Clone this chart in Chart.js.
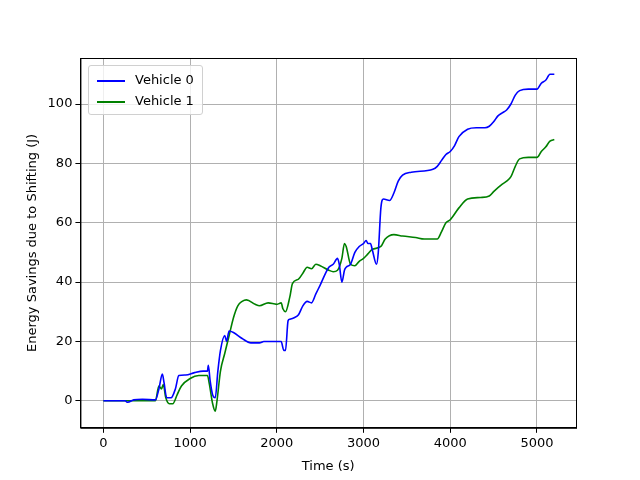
<!DOCTYPE html>
<html>
<head>
<meta charset="utf-8">
<script src="https://cdn.jsdelivr.net/npm/chart.js@4"></script>
<style>
  body { margin: 0; background: #fff; }
  #wrap { position: relative; width: 640px; height: 480px; }
  #legend {
    position: absolute; left: 88px; top: 65px;
    border: 1px solid #d0d0d0; border-radius: 3px; background: rgba(255,255,255,0.8);
    font: 13px "DejaVu Sans", sans-serif; padding: 3px 8px 3px 8px; line-height: 21px;
  }
  #legend span.ln { display: inline-block; width: 28px; height: 2px; vertical-align: middle; margin-right: 10px; }
</style>
</head>
<body>
<div id="wrap">
  <canvas id="chart" width="640" height="480"></canvas>
  <div id="legend">
    <div><span class="ln" style="background:#0000ff"></span>Vehicle 0</div>
    <div><span class="ln" style="background:#008000"></span>Vehicle 1</div>
  </div>
</div>
<script>
const time0 = [0, 250, 280, 350, 450, 600, 640, 680, 700, 730, 780, 830, 870, 950, 1050, 1150, 1200, 1210, 1230, 1260, 1290, 1320, 1350, 1400, 1420, 1450, 1500, 1600, 1700, 1800, 1850, 1950, 2050, 2080, 2100, 2130, 2150, 2200, 2250, 2300, 2350, 2400, 2450, 2500, 2600, 2650, 2700, 2720, 2750, 2780, 2800, 2850, 2900, 2950, 3000, 3030, 3050, 3080, 3100, 3150, 3170, 3200, 3230, 3300, 3350, 3400, 3450, 3550, 3800, 3850, 3900, 3950, 4000, 4050, 4100, 4200, 4300, 4400, 4450, 4500, 4550, 4600, 4650, 4700, 4750, 4800, 4900, 5000, 5050, 5100, 5150, 5200];
const savings0 = [0, 0, -0.5, 0.3, 0.5, 0.3, 4, 9, 6, 1, 1, 4, 8.5, 8.7, 9.5, 10, 10, 12, 7, 2, 1, 10, 17, 22, 20, 23.5, 23, 21, 19.5, 19.5, 20, 20, 20, 17, 17, 27, 27.5, 28, 29, 32, 33.5, 33, 36, 39, 45, 46, 48, 46, 40, 44, 45, 46, 50, 52, 53, 54, 53, 53, 51, 46, 50, 65, 68, 67.5, 70, 74, 76, 77, 78, 79, 81, 83, 84, 86, 89, 91.5, 92, 92, 92.5, 94, 96, 97, 98, 100, 103, 104.5, 105, 105, 107, 108, 110, 110];
const time1 = [0, 300, 600, 640, 670, 690, 720, 760, 800, 850, 900, 1000, 1100, 1200, 1220, 1260, 1290, 1310, 1350, 1400, 1450, 1500, 1550, 1600, 1650, 1750, 1800, 1900, 2000, 2050, 2070, 2100, 2150, 2180, 2250, 2300, 2350, 2400, 2450, 2500, 2600, 2650, 2700, 2750, 2780, 2800, 2850, 2900, 2950, 3000, 3050, 3100, 3200, 3250, 3350, 3450, 3600, 3700, 3850, 3900, 3950, 4000, 4100, 4200, 4350, 4450, 4500, 4600, 4650, 4700, 4750, 4800, 4900, 5000, 5050, 5100, 5150, 5200];
const savings1 = [0, 0, 0, 5, 4, 5.5, 1, -1, -1, 2, 5, 7.5, 8.5, 8.5, 6, -1, -3.5, 0, 10, 16, 22, 28, 32, 33.5, 34, 32.5, 32, 33, 32.5, 33, 31, 30, 35, 39.5, 41, 43, 45, 44.5, 46, 45.5, 44, 43.5, 44, 48, 53, 52, 46, 45.5, 47, 48, 49.5, 51, 52, 54.5, 56, 55.5, 55, 54.5, 54.5, 57, 60, 61, 65, 68, 68.5, 69, 70.5, 73, 74, 75.5, 79, 81.5, 82, 82, 84, 85.5, 87.5, 88];
const xTicks = [0, 1000, 2000, 3000, 4000, 5000];
const yTicks = [0, 20, 40, 60, 80, 100];

const pts = (xs, ys) => xs.map((x, i) => ({ x: x, y: ys[i] }));
const font = { family: 'DejaVu Sans', size: 13 };

// matplotlib-style frame round the plot area
const frame = {
  id: 'frame',
  afterDraw(chart) {
    const a = chart.chartArea, ctx = chart.ctx;
    ctx.save();
    ctx.strokeStyle = '#000';
    ctx.lineWidth = 1;
    ctx.strokeRect(a.left + 0.5, a.top + 0.5, a.right - a.left, a.bottom - a.top);
    ctx.restore();
  }
};

new Chart(document.getElementById('chart'), {
  type: 'line',
  data: {
    datasets: [
      { label: 'Vehicle 0', data: pts(time0, savings0), borderColor: '#0000ff', borderWidth: 1.6, pointRadius: 0, cubicInterpolationMode: 'monotone' },
      { label: 'Vehicle 1', data: pts(time1, savings1), borderColor: '#008000', borderWidth: 1.6, pointRadius: 0, cubicInterpolationMode: 'monotone' }
    ]
  },
  options: {
    responsive: false,
    animation: false,
    layout: { padding: { top: 58, right: 64, left: 21, bottom: 2 } },
    plugins: { legend: { display: false }, tooltip: { enabled: false } },
    scales: {
      x: {
        type: 'linear', min: -265, max: 5450,
        afterBuildTicks: a => { a.ticks = xTicks.map(v => ({ value: v })); },
        ticks: { color: '#000', font: font, maxRotation: 0, callback: v => String(v) },
        grid: { color: '#b0b0b0', tickColor: '#000', tickLength: 5 },
        border: { color: '#000' },
        title: { display: true, text: 'Time (s)', color: '#000', font: font }
      },
      y: {
        min: -9.1, max: 115.5,
        afterBuildTicks: a => { a.ticks = yTicks.map(v => ({ value: v })); },
        ticks: { color: '#000', font: font, callback: v => String(v) },
        grid: { color: '#b0b0b0', tickColor: '#000', tickLength: 5 },
        border: { color: '#000' },
        title: { display: true, text: 'Energy Savings due to Shifting (J)', color: '#000', font: font }
      }
    }
  },
  plugins: [frame]
});
</script>
</body>
</html>
